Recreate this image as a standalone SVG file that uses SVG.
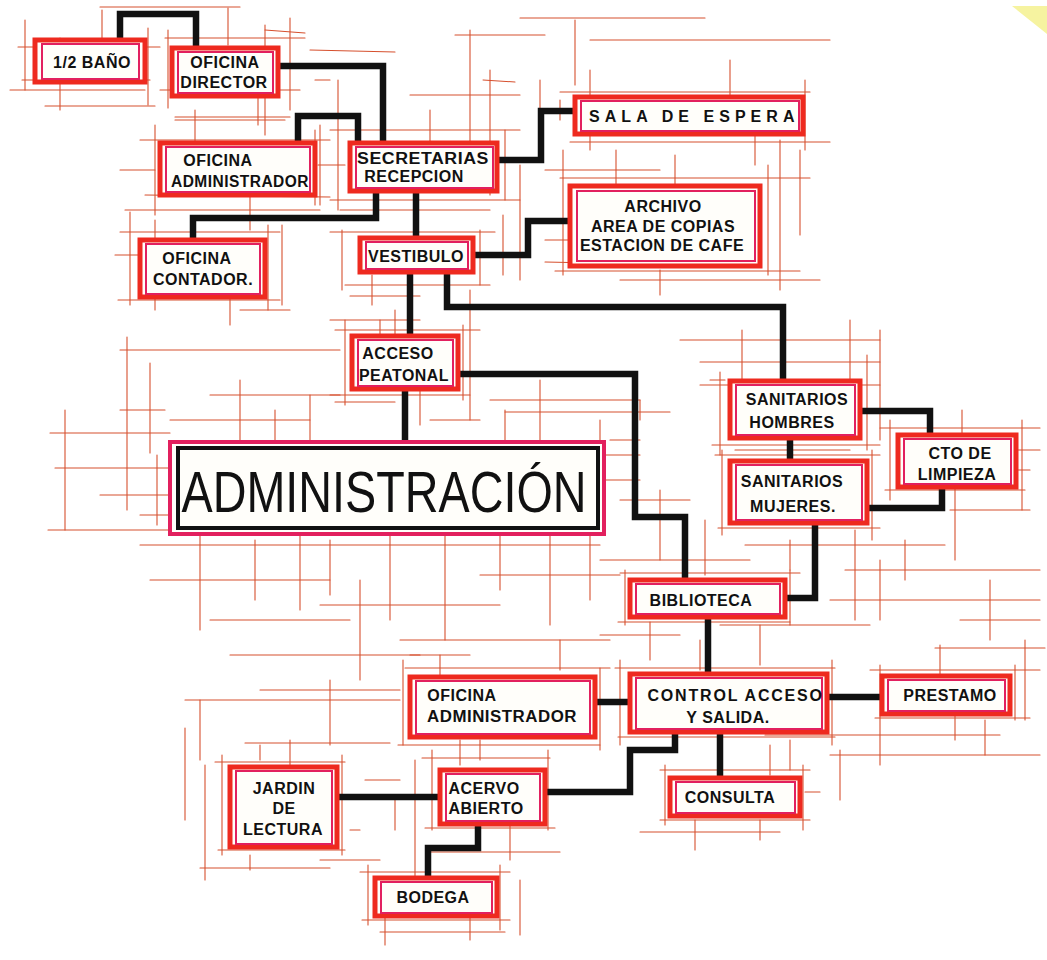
<svg xmlns="http://www.w3.org/2000/svg" width="1047" height="960" viewBox="0 0 1047 960">
<style>
.g line,.g path{stroke:#d6502e;stroke-width:1.1;fill:none;stroke-linecap:round}
.box{fill:#fffefa;stroke:#ee2a1f;stroke-width:5}
.box2{fill:none;stroke:#e2205e;stroke-width:2}
.t{font-family:"Liberation Sans Narrow","Liberation Sans",Arial,sans-serif;font-size:16px;font-weight:bold;fill:#111;text-anchor:middle;letter-spacing:0.5px}
.c path{stroke:#111;stroke-width:6.5;fill:none;stroke-linejoin:miter;stroke-linecap:square}
</style>
<rect width="1047" height="960" fill="#fff"/>
<path d="M1012 6 L1047 6 L1047 34 Z" fill="#f6f3a0"/>
<g class="g" id="grid">
<line x1="18" y1="47" x2="160" y2="47"/><line x1="22" y1="80" x2="150" y2="80"/><line x1="10" y1="90" x2="145" y2="90"/><line x1="45" y1="106" x2="155" y2="106"/><line x1="25" y1="20" x2="25" y2="90"/><line x1="60" y1="38" x2="60" y2="110"/><line x1="148" y1="28" x2="148" y2="105"/><line x1="102" y1="10" x2="102" y2="40"/>
<line x1="165" y1="38" x2="305" y2="38"/><line x1="160" y1="90" x2="300" y2="90"/><line x1="175" y1="117" x2="290" y2="117"/><line x1="168" y1="30" x2="168" y2="108"/><line x1="290" y1="18" x2="290" y2="110"/><line x1="228" y1="8" x2="228" y2="45"/><line x1="258" y1="95" x2="258" y2="125"/><line x1="100" y1="7" x2="240" y2="7"/>
<line x1="265" y1="30" x2="305" y2="33"/><line x1="310" y1="50" x2="395" y2="52"/><line x1="315" y1="80" x2="330" y2="80"/><line x1="265" y1="25" x2="265" y2="135"/><line x1="175" y1="120" x2="285" y2="120"/>
<line x1="140" y1="140" x2="330" y2="140"/><line x1="145" y1="195" x2="330" y2="197"/><line x1="120" y1="170" x2="155" y2="170"/><line x1="125" y1="210" x2="320" y2="210"/><line x1="155" y1="125" x2="155" y2="215"/><line x1="315" y1="130" x2="315" y2="205"/><line x1="195" y1="110" x2="195" y2="150"/><line x1="250" y1="195" x2="250" y2="230"/><line x1="320" y1="125" x2="320" y2="205"/><line x1="318" y1="165" x2="345" y2="165"/>
<line x1="330" y1="130" x2="520" y2="130"/><line x1="330" y1="200" x2="520" y2="200"/><line x1="340" y1="210" x2="490" y2="210"/><line x1="338" y1="80" x2="338" y2="210"/><line x1="505" y1="130" x2="505" y2="200"/><line x1="430" y1="110" x2="430" y2="145"/><line x1="470" y1="30" x2="470" y2="150"/><line x1="455" y1="35" x2="545" y2="35"/><line x1="483" y1="80" x2="515" y2="82"/><line x1="410" y1="95" x2="520" y2="95"/><line x1="490" y1="70" x2="490" y2="195"/>
<line x1="590" y1="40" x2="830" y2="40"/><line x1="560" y1="92" x2="810" y2="92"/><line x1="570" y1="142" x2="830" y2="142"/><line x1="590" y1="70" x2="590" y2="150"/><line x1="805" y1="80" x2="805" y2="150"/><line x1="730" y1="60" x2="730" y2="100"/><line x1="755" y1="135" x2="755" y2="165"/><line x1="540" y1="80" x2="540" y2="145"/><line x1="575" y1="20" x2="575" y2="85"/><line x1="520" y1="18" x2="705" y2="18"/><line x1="545" y1="170" x2="660" y2="170"/><line x1="560" y1="100" x2="560" y2="120"/>
<line x1="560" y1="178" x2="810" y2="178"/><line x1="555" y1="271" x2="800" y2="271"/><line x1="545" y1="262" x2="690" y2="265"/><line x1="563" y1="150" x2="563" y2="275"/><line x1="768" y1="165" x2="768" y2="275"/><line x1="616" y1="150" x2="616" y2="200"/><line x1="675" y1="155" x2="675" y2="190"/><line x1="660" y1="270" x2="660" y2="295"/><line x1="620" y1="280" x2="820" y2="280"/><line x1="780" y1="140" x2="780" y2="290"/><line x1="520" y1="165" x2="520" y2="280"/><line x1="545" y1="240" x2="760" y2="240"/><line x1="800" y1="150" x2="800" y2="235"/>
<line x1="120" y1="232" x2="280" y2="232"/><line x1="118" y1="300" x2="280" y2="300"/><line x1="115" y1="255" x2="140" y2="255"/><line x1="130" y1="212" x2="130" y2="305"/><line x1="268" y1="225" x2="268" y2="310"/><line x1="282" y1="225" x2="282" y2="305"/><line x1="155" y1="220" x2="155" y2="310"/><line x1="230" y1="290" x2="230" y2="325"/><line x1="145" y1="283" x2="230" y2="283"/><line x1="240" y1="310" x2="290" y2="310"/>
<line x1="330" y1="232" x2="495" y2="232"/><line x1="345" y1="285" x2="490" y2="285"/><line x1="350" y1="296" x2="420" y2="296"/><line x1="342" y1="230" x2="342" y2="290"/><line x1="480" y1="230" x2="480" y2="285"/><line x1="372" y1="275" x2="372" y2="305"/><line x1="330" y1="320" x2="420" y2="320"/><line x1="395" y1="310" x2="395" y2="340"/><line x1="470" y1="290" x2="470" y2="420"/><line x1="503" y1="215" x2="503" y2="275"/>
<line x1="335" y1="330" x2="480" y2="330"/><line x1="330" y1="395" x2="470" y2="395"/><line x1="335" y1="402" x2="395" y2="402"/><line x1="345" y1="320" x2="345" y2="405"/><line x1="463" y1="325" x2="463" y2="400"/><line x1="380" y1="320" x2="380" y2="345"/><line x1="430" y1="420" x2="480" y2="420"/><line x1="420" y1="390" x2="420" y2="425"/>
<line x1="120" y1="350" x2="340" y2="350"/><line x1="50" y1="433" x2="170" y2="433"/><line x1="55" y1="468" x2="170" y2="468"/><line x1="120" y1="410" x2="165" y2="410"/><line x1="100" y1="495" x2="170" y2="495"/>
<line x1="48" y1="530" x2="225" y2="530"/><line x1="127" y1="337" x2="127" y2="510"/><line x1="150" y1="363" x2="150" y2="453"/><line x1="157" y1="455" x2="157" y2="525"/><line x1="65" y1="410" x2="65" y2="530"/><line x1="140" y1="515" x2="300" y2="515"/>
<line x1="170" y1="420" x2="310" y2="420"/><line x1="240" y1="380" x2="240" y2="440"/><line x1="275" y1="410" x2="275" y2="445"/><line x1="310" y1="395" x2="310" y2="440"/><line x1="210" y1="395" x2="340" y2="395"/>
<line x1="140" y1="545" x2="600" y2="545"/><line x1="150" y1="580" x2="330" y2="580"/><line x1="200" y1="530" x2="200" y2="630"/><line x1="255" y1="540" x2="255" y2="600"/><line x1="300" y1="530" x2="300" y2="610"/><line x1="330" y1="540" x2="330" y2="595"/><line x1="390" y1="530" x2="390" y2="620"/><line x1="445" y1="530" x2="445" y2="640"/><line x1="500" y1="530" x2="500" y2="590"/><line x1="550" y1="530" x2="550" y2="625"/><line x1="590" y1="530" x2="590" y2="600"/><line x1="210" y1="620" x2="350" y2="620"/><line x1="320" y1="605" x2="500" y2="605"/><line x1="400" y1="640" x2="610" y2="640"/><line x1="480" y1="575" x2="620" y2="575"/><line x1="230" y1="655" x2="420" y2="655"/><line x1="360" y1="580" x2="360" y2="680"/>
<line x1="490" y1="400" x2="640" y2="400"/><line x1="505" y1="410" x2="505" y2="440"/><line x1="540" y1="380" x2="540" y2="450"/><line x1="600" y1="420" x2="600" y2="470"/><line x1="505" y1="412" x2="670" y2="412"/>
<line x1="610" y1="440" x2="640" y2="440"/><line x1="640" y1="400" x2="640" y2="420"/><line x1="545" y1="455" x2="640" y2="455"/><line x1="605" y1="480" x2="640" y2="480"/><line x1="620" y1="500" x2="690" y2="500"/><line x1="660" y1="490" x2="660" y2="560"/><line x1="600" y1="560" x2="750" y2="560"/><line x1="705" y1="520" x2="705" y2="575"/>
<line x1="680" y1="340" x2="880" y2="340"/><line x1="700" y1="362" x2="880" y2="362"/><line x1="710" y1="380" x2="725" y2="380"/><line x1="712" y1="445" x2="880" y2="445"/><line x1="720" y1="372" x2="720" y2="455"/><line x1="867" y1="355" x2="867" y2="450"/><line x1="880" y1="330" x2="880" y2="440"/><line x1="850" y1="320" x2="850" y2="380"/><line x1="742" y1="330" x2="742" y2="380"/><line x1="700" y1="385" x2="880" y2="385"/><line x1="735" y1="450" x2="850" y2="450"/>
<line x1="880" y1="428" x2="1040" y2="428"/><line x1="885" y1="490" x2="1025" y2="490"/><line x1="950" y1="510" x2="1030" y2="510"/><line x1="890" y1="420" x2="890" y2="500"/><line x1="1022" y1="420" x2="1022" y2="510"/><line x1="962" y1="410" x2="962" y2="440"/><line x1="955" y1="480" x2="955" y2="560"/><line x1="1000" y1="470" x2="1030" y2="470"/><line x1="1000" y1="450" x2="1040" y2="450"/>
<line x1="715" y1="455" x2="880" y2="455"/><line x1="718" y1="528" x2="880" y2="528"/><line x1="722" y1="450" x2="722" y2="535"/><line x1="872" y1="450" x2="872" y2="540"/><line x1="855" y1="530" x2="855" y2="620"/><line x1="790" y1="540" x2="790" y2="570"/><line x1="745" y1="545" x2="945" y2="545"/><line x1="905" y1="540" x2="905" y2="580"/><line x1="880" y1="560" x2="880" y2="620"/><line x1="845" y1="570" x2="1040" y2="570"/><line x1="830" y1="600" x2="1040" y2="600"/><line x1="990" y1="580" x2="990" y2="640"/><line x1="960" y1="620" x2="1040" y2="620"/>
<line x1="620" y1="573" x2="800" y2="573"/><line x1="618" y1="622" x2="790" y2="622"/><line x1="600" y1="635" x2="680" y2="635"/><line x1="625" y1="570" x2="625" y2="625"/><line x1="790" y1="570" x2="790" y2="625"/><line x1="760" y1="625" x2="760" y2="665"/><line x1="650" y1="622" x2="650" y2="660"/><line x1="720" y1="625" x2="870" y2="625"/>
<line x1="405" y1="668" x2="610" y2="668"/><line x1="398" y1="745" x2="600" y2="745"/><line x1="403" y1="660" x2="403" y2="745"/><line x1="600" y1="668" x2="600" y2="750"/><line x1="440" y1="655" x2="440" y2="680"/><line x1="480" y1="740" x2="480" y2="760"/><line x1="410" y1="655" x2="470" y2="655"/><line x1="560" y1="640" x2="560" y2="670"/><line x1="605" y1="700" x2="620" y2="700"/>
<line x1="615" y1="668" x2="835" y2="668"/><line x1="618" y1="737" x2="835" y2="737"/><line x1="620" y1="660" x2="620" y2="745"/><line x1="832" y1="660" x2="832" y2="745"/><line x1="700" y1="640" x2="700" y2="670"/><line x1="790" y1="740" x2="790" y2="770"/><line x1="765" y1="735" x2="1000" y2="735"/><line x1="830" y1="755" x2="1040" y2="755"/>
<line x1="870" y1="670" x2="1040" y2="670"/><line x1="875" y1="718" x2="1030" y2="718"/><line x1="935" y1="648" x2="1045" y2="648"/><line x1="880" y1="665" x2="880" y2="765"/><line x1="1015" y1="665" x2="1015" y2="720"/><line x1="1025" y1="640" x2="1025" y2="720"/><line x1="940" y1="645" x2="940" y2="680"/><line x1="955" y1="715" x2="955" y2="740"/><line x1="985" y1="720" x2="985" y2="755"/>
<line x1="660" y1="770" x2="810" y2="770"/><line x1="660" y1="820" x2="810" y2="820"/><line x1="640" y1="832" x2="780" y2="832"/><line x1="665" y1="765" x2="665" y2="825"/><line x1="803" y1="765" x2="803" y2="830"/><line x1="695" y1="820" x2="695" y2="850"/><line x1="760" y1="820" x2="760" y2="840"/><line x1="770" y1="745" x2="770" y2="775"/><line x1="840" y1="750" x2="840" y2="800"/><line x1="805" y1="792" x2="820" y2="792"/>
<line x1="422" y1="758" x2="550" y2="758"/><line x1="425" y1="828" x2="555" y2="828"/><line x1="430" y1="852" x2="560" y2="852"/><line x1="432" y1="750" x2="432" y2="830"/><line x1="548" y1="750" x2="548" y2="830"/><line x1="510" y1="825" x2="510" y2="860"/><line x1="460" y1="740" x2="460" y2="765"/><line x1="415" y1="760" x2="415" y2="880"/><line x1="395" y1="795" x2="395" y2="830"/>
<line x1="215" y1="762" x2="345" y2="762"/><line x1="218" y1="850" x2="345" y2="850"/><line x1="245" y1="743" x2="390" y2="743"/><line x1="222" y1="755" x2="222" y2="855"/><line x1="342" y1="755" x2="342" y2="855"/><line x1="260" y1="745" x2="260" y2="760"/><line x1="290" y1="740" x2="290" y2="765"/><line x1="320" y1="860" x2="380" y2="860"/><line x1="250" y1="855" x2="250" y2="870"/><line x1="200" y1="868" x2="330" y2="868"/><line x1="205" y1="765" x2="205" y2="880"/><line x1="185" y1="728" x2="185" y2="820"/><line x1="365" y1="780" x2="400" y2="780"/><line x1="350" y1="830" x2="360" y2="830"/>
<line x1="360" y1="872" x2="510" y2="872"/><line x1="362" y1="920" x2="510" y2="920"/><line x1="380" y1="932" x2="505" y2="932"/><line x1="368" y1="865" x2="368" y2="925"/><line x1="500" y1="865" x2="500" y2="930"/><line x1="520" y1="880" x2="520" y2="935"/><line x1="385" y1="915" x2="385" y2="945"/><line x1="470" y1="915" x2="470" y2="940"/>
<line x1="185" y1="700" x2="400" y2="700"/><line x1="200" y1="700" x2="200" y2="760"/><line x1="330" y1="680" x2="330" y2="745"/><line x1="260" y1="690" x2="400" y2="690"/>
</g>
<g class="c" id="connectors">
<path d="M120 44 V14 H196 V48"/>
<path d="M276 66 H383 V143"/>
<path d="M298 146 V116 H358 V143"/>
<path d="M376 191 V218 H193 V242"/>
<path d="M416 191 V238"/>
<path d="M497 160 H541 V111 H576"/>
<path d="M474 255 H528 V221 H571"/>
<path d="M410 271 V337"/>
<path d="M447 271 V307 H783 V380"/>
<path d="M455 374 H635 V517 H685 V580"/>
<path d="M405 389 V443"/>
<path d="M790 437 V462"/>
<path d="M858 411 H930 V436"/>
<path d="M866 508 H942 V486"/>
<path d="M815 522 V598 H786"/>
<path d="M708 617 V676"/>
<path d="M596 702 H630"/>
<path d="M827 697 H882"/>
<path d="M720 732 V779"/>
<path d="M675 732 V750 H630 V792 H545"/>
<path d="M441 797 H336"/>
<path d="M478 823 V848 H428 V879"/>
</g>
<g id="n1"><rect class="box" x="35" y="40" width="110" height="42"/><rect class="box2" x="42" y="44" width="97" height="35"/><text class="t" x="92" y="68">1/2 BAÑO</text></g>
<g id="n2"><rect class="box" x="172" y="48" width="106" height="48"/><rect class="box2" x="178" y="52" width="95" height="41"/><text class="t" x="225" y="68">OFICINA</text><text class="t" x="224" y="88">DIRECTOR</text></g>
<g id="n3"><rect class="box" x="575" y="97" width="228" height="37"/><rect class="box2" x="581" y="101" width="218" height="30"/><text class="t" x="692" y="122" textLength="206" lengthAdjust="spacing">SALA DE ESPERA</text></g>
<g id="n4"><rect class="box" x="160" y="143" width="155" height="52"/><rect class="box2" x="166" y="147" width="144" height="45"/><text class="t" x="218" y="166">OFICINA</text><text class="t" x="240" y="187" textLength="138" lengthAdjust="spacingAndGlyphs">ADMINISTRADOR</text></g>
<g id="n5"><rect class="box" x="350" y="143" width="147" height="48"/><rect class="box2" x="356" y="147" width="137" height="41"/><text class="t" x="423" y="164" textLength="132" lengthAdjust="spacingAndGlyphs">SECRETARIAS</text><text class="t" x="414" y="182">RECEPCION</text></g>
<g id="n6"><rect class="box" x="570" y="186" width="190" height="80"/><rect class="box2" x="577" y="191" width="178" height="70"/><text class="t" x="663" y="212">ARCHIVO</text><text class="t" x="663" y="232">AREA DE COPIAS</text><text class="t" x="662" y="251">ESTACION DE CAFE</text></g>
<g id="n7"><rect class="box" x="140" y="240" width="125" height="57"/><rect class="box2" x="146" y="244" width="114" height="50"/><text class="t" x="197" y="264">OFICINA</text><text class="t" x="203" y="285">CONTADOR.</text></g>
<g id="n8"><rect class="box" x="360" y="238" width="113" height="34"/><rect class="box2" x="366" y="242" width="102" height="27"/><text class="t" x="416" y="262">VESTIBULO</text></g>
<g id="n9"><rect class="box" x="352" y="336" width="106" height="53"/><rect class="box2" x="358" y="340" width="95" height="46"/><text class="t" x="398" y="359">ACCESO</text><text class="t" x="404" y="381" textLength="90" lengthAdjust="spacingAndGlyphs">PEATONAL</text></g>
<g id="n10"><rect x="170" y="442" width="434" height="92" fill="#fffefa" stroke="#e2205e" stroke-width="4"/><rect x="178" y="448" width="420" height="80" fill="none" stroke="#111" stroke-width="4"/><text x="384" y="512" font-family="Liberation Sans, Arial, sans-serif" font-size="58" fill="#111" text-anchor="middle" textLength="405" lengthAdjust="spacingAndGlyphs">ADMINISTRACIÓN</text></g>
<g id="n11"><rect class="box" x="730" y="381" width="130" height="57"/><rect class="box2" x="736" y="385" width="119" height="50"/><text class="t" x="797" y="405">SANITARIOS</text><text class="t" x="792" y="428">HOMBRES</text></g>
<g id="n12"><rect class="box" x="898" y="435" width="118" height="52"/><rect class="box2" x="904" y="439" width="107" height="45"/><text class="t" x="960" y="459">CTO DE</text><text class="t" x="957" y="480">LIMPIEZA</text></g>
<g id="n13"><rect class="box" x="730" y="461" width="137" height="62"/><rect class="box2" x="736" y="465" width="126" height="55"/><text class="t" x="792" y="487">SANITARIOS</text><text class="t" x="793" y="512">MUJERES.</text></g>
<g id="n14"><rect class="box" x="630" y="580" width="155" height="37"/><rect class="box2" x="636" y="584" width="144" height="30"/><text class="t" x="701" y="606">BIBLIOTECA</text></g>
<g id="n15"><rect class="box" x="410" y="677" width="185" height="60"/><rect class="box2" x="416" y="681" width="174" height="53"/><text class="t" x="462" y="701">OFICINA</text><text class="t" x="502" y="722" textLength="150" lengthAdjust="spacingAndGlyphs">ADMINISTRADOR</text></g>
<g id="n16"><rect class="box" x="630" y="674" width="197" height="58"/><rect class="box2" x="636" y="678" width="186" height="51"/><text class="t" x="735" y="701" textLength="175" lengthAdjust="spacing">CONTROL ACCESO</text><text class="t" x="728" y="723">Y SALIDA.</text></g>
<g id="n17"><rect class="box" x="882" y="676" width="128" height="38"/><rect class="box2" x="888" y="680" width="117" height="31"/><text class="t" x="950" y="701">PRESTAMO</text></g>
<g id="n18"><rect class="box" x="440" y="770" width="105" height="54"/><rect class="box2" x="446" y="774" width="94" height="47"/><text class="t" x="484" y="794">ACERVO</text><text class="t" x="486" y="814">ABIERTO</text></g>
<g id="n19"><rect class="box" x="670" y="778" width="130" height="38"/><rect class="box2" x="676" y="782" width="119" height="31"/><text class="t" x="730" y="803">CONSULTA</text></g>
<g id="n20"><rect class="box" x="230" y="767" width="107" height="80"/><rect class="box2" x="236" y="771" width="96" height="73"/><text class="t" x="284" y="794">JARDIN</text><text class="t" x="284" y="814">DE</text><text class="t" x="283" y="835">LECTURA</text></g>
<g id="n21"><rect class="box" x="375" y="878" width="122" height="38"/><rect class="box2" x="381" y="882" width="111" height="31"/><text class="t" x="433" y="903">BODEGA</text></g>
</svg>
